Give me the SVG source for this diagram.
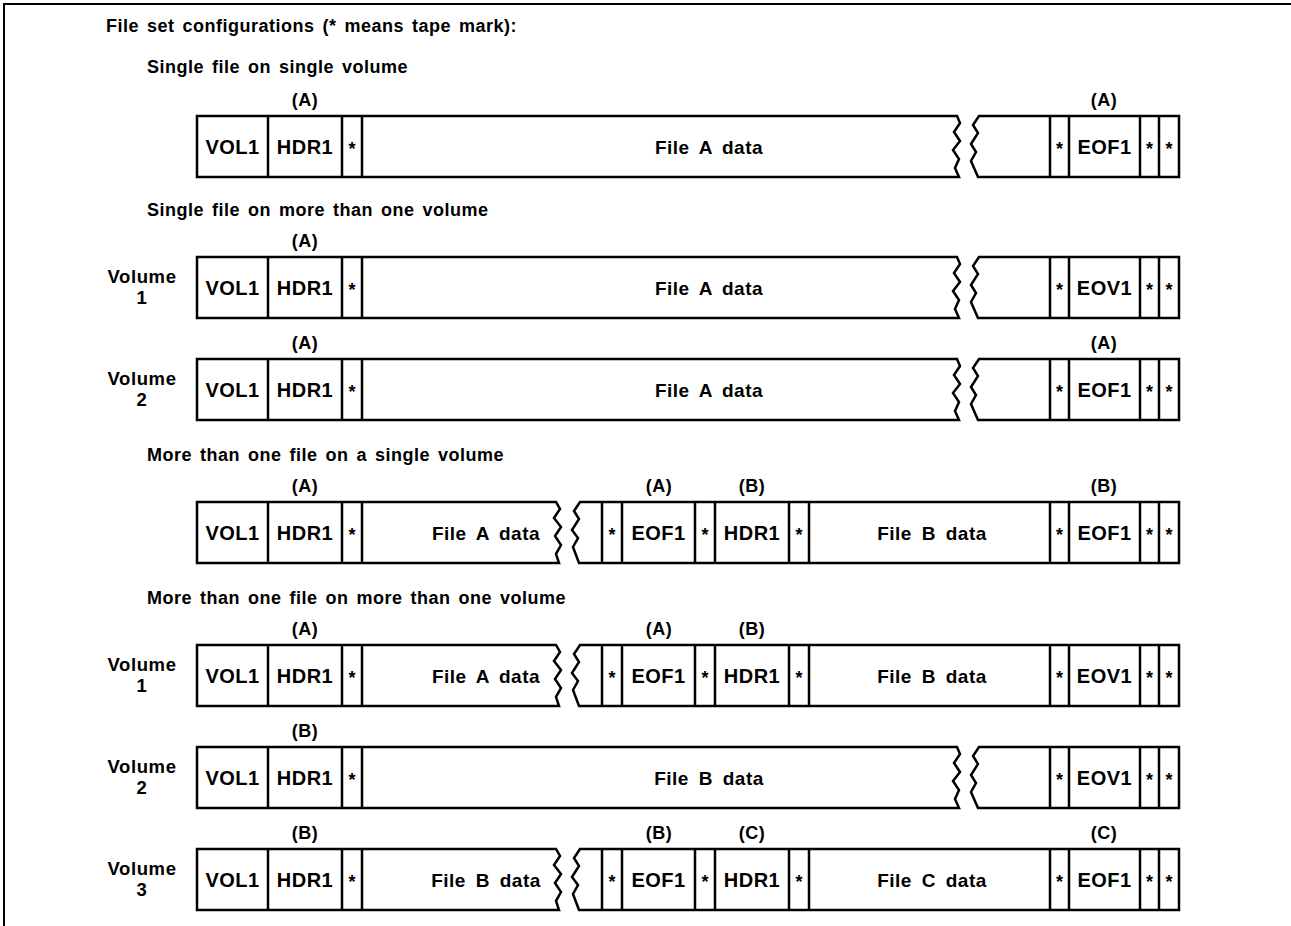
<svg xmlns="http://www.w3.org/2000/svg" width="1291" height="926" viewBox="0 0 1291 926">
<style>
text { font-family: "Liberation Sans", Arial, sans-serif; font-weight: bold; fill: #000; }
.bx { font-size: 20px; text-anchor: middle; letter-spacing: 0.5px; }
.st { font-size: 18px; text-anchor: middle; }
.dt { font-size: 19px; text-anchor: middle; letter-spacing: 0.5px; word-spacing: 4px; }
.hd { font-size: 18px; letter-spacing: 0.5px; word-spacing: 2.5px; }
.lb { font-size: 18px; text-anchor: middle; letter-spacing: 0.5px; }
.vl { font-size: 18.5px; text-anchor: middle; letter-spacing: 0.6px; }
.o { fill: #fff; stroke: #000; stroke-width: 2.5; stroke-linejoin: miter; }
.dv { stroke: #000; stroke-width: 2.5; }
.fr { stroke: #000; stroke-width: 2; fill: none; }
</style>
<defs>
<path id="pa1" d="M197,0 H957 L960,7 L954,16 L960,25 L953,34 L959,43 L955,52 L959,61 H197 Z"/>
<path id="pa2" d="M979,0 H1179 V61 H978 L971,45 L976,36 L971,28 L978,17 L973,9 Z"/>
<path id="pb1" d="M197,0 H556 L560,7 L554,16 L561,25 L555,34 L561,43 L556,52 L559,61 H197 Z"/>
<path id="pb2" d="M580,0 H1179 V61 H579 L573,45 L578,36 L572,28 L579,17 L574,9 Z"/>
<path id="dva" d="M268,0 V61 M342,0 V61 M362,0 V61 M1050,0 V61 M1069,0 V61 M1140,0 V61 M1159,0 V61"/>
<path id="dvb" d="M268,0 V61 M342,0 V61 M362,0 V61 M602,0 V61 M622,0 V61 M695,0 V61 M715,0 V61 M789,0 V61 M809,0 V61 M1050,0 V61 M1069,0 V61 M1140,0 V61 M1159,0 V61"/>
</defs>
<g id="frame">
<path class="fr" d="M4,926 V4 H1291"/>
</g>
<g id="headings">
<text class="hd" x="106" y="32">File set configurations (* means tape mark):</text>
<text class="hd" x="147" y="73">Single file on single volume</text>
<text class="hd" x="147" y="216">Single file on more than one volume</text>
<text class="hd" x="147" y="461">More than one file on a single volume</text>
<text class="hd" x="147" y="604">More than one file on more than one volume</text>
</g>
<g id="row1" transform="translate(0,116)">
<use href="#pa1" class="o"/><use href="#pa2" class="o"/><use href="#dva" class="dv"/>
<text class="lb" x="305" y="-10">(A)</text><text class="lb" x="1104" y="-10">(A)</text>
<text class="bx" x="232.5" y="38">VOL1</text><text class="bx" x="305" y="38">HDR1</text><text class="st" x="352" y="39">*</text>
<text class="dt" x="709" y="38">File A data</text>
<text class="st" x="1059.5" y="39">*</text><text class="bx" x="1104.5" y="38">EOF1</text><text class="st" x="1149.5" y="39">*</text><text class="st" x="1169" y="39">*</text>
</g>
<g id="row2" transform="translate(0,257)">
<use href="#pa1" class="o"/><use href="#pa2" class="o"/><use href="#dva" class="dv"/>
<text class="vl" x="142" y="26">Volume</text><text class="vl" x="142" y="47">1</text>
<text class="lb" x="305" y="-10">(A)</text>
<text class="bx" x="232.5" y="38">VOL1</text><text class="bx" x="305" y="38">HDR1</text><text class="st" x="352" y="39">*</text>
<text class="dt" x="709" y="38">File A data</text>
<text class="st" x="1059.5" y="39">*</text><text class="bx" x="1104.5" y="38">EOV1</text><text class="st" x="1149.5" y="39">*</text><text class="st" x="1169" y="39">*</text>
</g>
<g id="row3" transform="translate(0,359)">
<use href="#pa1" class="o"/><use href="#pa2" class="o"/><use href="#dva" class="dv"/>
<text class="vl" x="142" y="26">Volume</text><text class="vl" x="142" y="47">2</text>
<text class="lb" x="305" y="-10">(A)</text><text class="lb" x="1104" y="-10">(A)</text>
<text class="bx" x="232.5" y="38">VOL1</text><text class="bx" x="305" y="38">HDR1</text><text class="st" x="352" y="39">*</text>
<text class="dt" x="709" y="38">File A data</text>
<text class="st" x="1059.5" y="39">*</text><text class="bx" x="1104.5" y="38">EOF1</text><text class="st" x="1149.5" y="39">*</text><text class="st" x="1169" y="39">*</text>
</g>
<g id="row4" transform="translate(0,502)">
<use href="#pb1" class="o"/><use href="#pb2" class="o"/><use href="#dvb" class="dv"/>
<text class="lb" x="305" y="-10">(A)</text><text class="lb" x="659" y="-10">(A)</text><text class="lb" x="752" y="-10">(B)</text><text class="lb" x="1104" y="-10">(B)</text>
<text class="bx" x="232.5" y="38">VOL1</text><text class="bx" x="305" y="38">HDR1</text><text class="st" x="352" y="39">*</text>
<text class="dt" x="486" y="38">File A data</text>
<text class="st" x="612" y="39">*</text><text class="bx" x="658.5" y="38">EOF1</text><text class="st" x="705" y="39">*</text><text class="bx" x="752" y="38">HDR1</text><text class="st" x="799" y="39">*</text>
<text class="dt" x="932" y="38">File B data</text>
<text class="st" x="1059.5" y="39">*</text><text class="bx" x="1104.5" y="38">EOF1</text><text class="st" x="1149.5" y="39">*</text><text class="st" x="1169" y="39">*</text>
</g>
<g id="row5" transform="translate(0,645)">
<use href="#pb1" class="o"/><use href="#pb2" class="o"/><use href="#dvb" class="dv"/>
<text class="vl" x="142" y="26">Volume</text><text class="vl" x="142" y="47">1</text>
<text class="lb" x="305" y="-10">(A)</text><text class="lb" x="659" y="-10">(A)</text><text class="lb" x="752" y="-10">(B)</text>
<text class="bx" x="232.5" y="38">VOL1</text><text class="bx" x="305" y="38">HDR1</text><text class="st" x="352" y="39">*</text>
<text class="dt" x="486" y="38">File A data</text>
<text class="st" x="612" y="39">*</text><text class="bx" x="658.5" y="38">EOF1</text><text class="st" x="705" y="39">*</text><text class="bx" x="752" y="38">HDR1</text><text class="st" x="799" y="39">*</text>
<text class="dt" x="932" y="38">File B data</text>
<text class="st" x="1059.5" y="39">*</text><text class="bx" x="1104.5" y="38">EOV1</text><text class="st" x="1149.5" y="39">*</text><text class="st" x="1169" y="39">*</text>
</g>
<g id="row6" transform="translate(0,747)">
<use href="#pa1" class="o"/><use href="#pa2" class="o"/><use href="#dva" class="dv"/>
<text class="vl" x="142" y="26">Volume</text><text class="vl" x="142" y="47">2</text>
<text class="lb" x="305" y="-10">(B)</text>
<text class="bx" x="232.5" y="38">VOL1</text><text class="bx" x="305" y="38">HDR1</text><text class="st" x="352" y="39">*</text>
<text class="dt" x="709" y="38">File B data</text>
<text class="st" x="1059.5" y="39">*</text><text class="bx" x="1104.5" y="38">EOV1</text><text class="st" x="1149.5" y="39">*</text><text class="st" x="1169" y="39">*</text>
</g>
<g id="row7" transform="translate(0,849)">
<use href="#pb1" class="o"/><use href="#pb2" class="o"/><use href="#dvb" class="dv"/>
<text class="vl" x="142" y="26">Volume</text><text class="vl" x="142" y="47">3</text>
<text class="lb" x="305" y="-10">(B)</text><text class="lb" x="659" y="-10">(B)</text><text class="lb" x="752" y="-10">(C)</text><text class="lb" x="1104" y="-10">(C)</text>
<text class="bx" x="232.5" y="38">VOL1</text><text class="bx" x="305" y="38">HDR1</text><text class="st" x="352" y="39">*</text>
<text class="dt" x="486" y="38">File B data</text>
<text class="st" x="612" y="39">*</text><text class="bx" x="658.5" y="38">EOF1</text><text class="st" x="705" y="39">*</text><text class="bx" x="752" y="38">HDR1</text><text class="st" x="799" y="39">*</text>
<text class="dt" x="932" y="38">File C data</text>
<text class="st" x="1059.5" y="39">*</text><text class="bx" x="1104.5" y="38">EOF1</text><text class="st" x="1149.5" y="39">*</text><text class="st" x="1169" y="39">*</text>
</g>
</svg>
